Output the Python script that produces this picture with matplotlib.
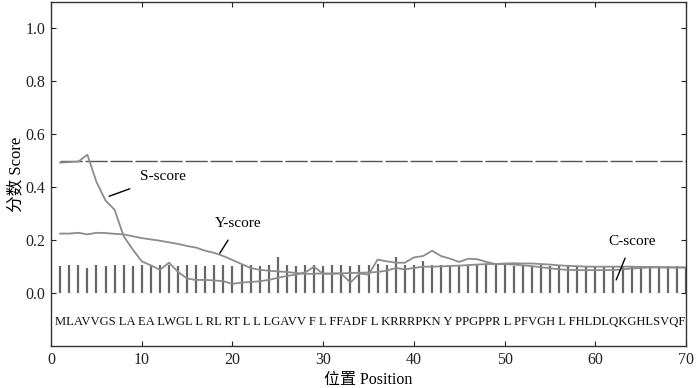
import matplotlib
matplotlib.use('Agg')
import matplotlib.pyplot as plt
import numpy as np

plt.rcParams['font.family'] = ['Liberation Serif', 'Noto Sans CJK SC']

pos = list(range(1, 71))

sScore = [0.493, 0.495, 0.497, 0.523, 0.42, 0.35, 0.315, 0.215, 0.165, 0.12,
          0.105, 0.088, 0.115, 0.08, 0.055, 0.05, 0.05, 0.048, 0.045, 0.035,
          0.04, 0.042, 0.045, 0.05, 0.058, 0.065, 0.07, 0.078, 0.1, 0.072,
          0.075, 0.074, 0.04, 0.074, 0.07, 0.127, 0.12, 0.115, 0.115, 0.135,
          0.14, 0.16, 0.14, 0.13, 0.118, 0.13, 0.128, 0.118, 0.11, 0.112,
          0.113, 0.112, 0.112, 0.11, 0.108, 0.105, 0.103, 0.102, 0.1, 0.1,
          0.1, 0.1, 0.1, 0.1, 0.099, 0.099, 0.098, 0.098, 0.097, 0.097]

yScore = [0.225, 0.225, 0.228, 0.222, 0.228, 0.227, 0.224, 0.222, 0.215, 0.208,
          0.203, 0.198, 0.192, 0.186, 0.178, 0.172, 0.16, 0.152, 0.14, 0.125,
          0.11, 0.095, 0.088, 0.085, 0.082, 0.08, 0.076, 0.073, 0.073, 0.075,
          0.073, 0.075, 0.076, 0.077, 0.078, 0.08, 0.085, 0.095, 0.09, 0.095,
          0.1, 0.1, 0.101, 0.103, 0.104, 0.106, 0.108, 0.11, 0.11, 0.11,
          0.108, 0.105, 0.102, 0.098, 0.094, 0.09, 0.088, 0.087, 0.087, 0.087,
          0.087, 0.087, 0.09, 0.093, 0.095, 0.097, 0.097, 0.097, 0.097, 0.097]

cScore = [0.104, 0.106, 0.105, 0.095, 0.106, 0.104, 0.105, 0.106, 0.104, 0.105,
          0.104, 0.106, 0.105, 0.104, 0.105, 0.106, 0.104, 0.105, 0.105, 0.104,
          0.106, 0.105, 0.104, 0.106, 0.135, 0.105, 0.104, 0.106, 0.105, 0.104,
          0.106, 0.105, 0.104, 0.106, 0.105, 0.11, 0.108, 0.135, 0.106, 0.108,
          0.122, 0.108, 0.106, 0.107, 0.106, 0.105, 0.106, 0.105, 0.106, 0.105,
          0.104, 0.105, 0.104, 0.105, 0.104, 0.103, 0.104, 0.103, 0.104, 0.103,
          0.104, 0.103, 0.102, 0.103, 0.102, 0.103, 0.102, 0.102, 0.101, 0.1]

seqText = 'MLAVVGS LA EA LWGL L RL RT L L LGAVV F L FFADF L KRRRPKN Y PPGPPR L PFVGH L FHLDLQKGHLSVQF'
cutoff = 0.5

f = plt.figure(figsize=(7.0, 3.88), dpi=100)
ax = f.add_axes([0.073, 0.108, 0.907, 0.887])

ax.vlines(pos, 0, cScore, colors='#666666', linewidth=1.6)
ax.plot([pos[0], pos[-1]], [cutoff, cutoff], color='#555555', linewidth=1.0, dashes=(16, 2))
ax.plot(pos, yScore, color='#8c8c8c', linewidth=1.3)
ax.plot(pos, sScore, color='#8c8c8c', linewidth=1.3)

ax.set_xlim(0, 70)
ax.set_ylim(-0.2, 1.1)

seq = ax.text(0.45, -0.11, seqText, fontsize=9.3, ha='left', va='center', color='#111111')
# 让序列文字正好铺满到右边框
f.canvas.draw()
bb = seq.get_window_extent()
x0 = ax.transData.transform((0.45, 0))[0]
x1 = ax.transData.transform((69.9, 0))[0]
seq.set_fontsize(9.3 * (x1 - x0) / bb.width)

# 标注
ax.annotate('S-score', xy=(6.4, 0.366), xytext=(12.35, 0.44), fontsize=11,
            ha='center', va='center',
            arrowprops=dict(arrowstyle='-', color='black', lw=1.0, shrinkA=6, shrinkB=0))
ax.annotate('Y-score', xy=(18.6, 0.151), xytext=(20.65, 0.262), fontsize=11,
            ha='center', va='center',
            arrowprops=dict(arrowstyle='-', color='black', lw=1.0, shrinkA=6, shrinkB=0))
ax.annotate('C-score', xy=(62.3, 0.05), xytext=(64.05, 0.196), fontsize=11,
            ha='center', va='center',
            arrowprops=dict(arrowstyle='-', color='black', lw=1.0, shrinkA=6, shrinkB=0))

ax.set_xticks(np.arange(0, 71, 10))
ax.set_yticks(np.arange(0, 1.01, 0.2))
ax.set_yticklabels(['0.0', '0.2', '0.4', '0.6', '0.8', '1.0'])
ax.tick_params(direction='in', length=3.5, top=True, right=True, labelsize=11.5,
               colors='#222222', pad=4)
for sp in ax.spines.values():
    sp.set_color('#333333')
    sp.set_linewidth(1.0)

ax.set_xlabel('位置 Position', fontsize=11.5, labelpad=3)
ax.set_ylabel('分数 Score', fontsize=12, labelpad=1)

f.savefig('out.png', dpi=100)
